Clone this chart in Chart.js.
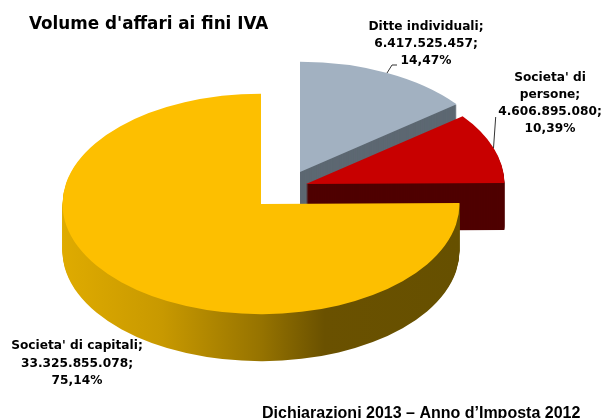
<!DOCTYPE html>
<html><head><meta charset="utf-8">
<style>html,body{margin:0;padding:0;background:#fff;overflow:hidden}canvas{display:block}</style>
<script src="https://cdn.jsdelivr.net/npm/chart.js@4/dist/chart.umd.js"></script>
</head><body>
<canvas id="c" width="603" height="418"></canvas>
<script>
const categories = ["Ditte individuali", "Societa' di persone", "Societa' di capitali"];
const values = [6417525457, 4606895080, 33325855078];
const topColors = ["#A2B1C1", "#C80000", "#FDBF00"];
const sideColors = ["#5D6872", "#4F0000", null];
const sliceCenterX = [300, 306, 261];
const sliceCenterY = [172, 184, 204];
const labelLines = [
  ["Ditte individuali;", "6.417.525.457;", "14,47%"],
  ["Societa' di", "persone;", "4.606.895.080;", "10,39%"],
  ["Societa' di capitali;", "33.325.855.078;", "75,14%"]
];
const labelX = [426, 550, 77];
const labelY = [[27, 44, 61], [78, 95, 112, 129], [346, 364, 381]];
const titleText = "Volume d'affari ai fini IVA";
const footerText = "Dichiarazioni 2013 \u2013 Anno d\u2019Imposta 2012";
const leaders = [[[387,73],[392,65],[397,65]], [[493.5,148],[495.7,117]]];
const squash = 0.555, depth = 47;

const pie3d = {
  id: 'pie3d',
  beforeDatasetDraw(chart) {
    const ctx = chart.ctx, arcs = chart.getDatasetMeta(0).data;
    arcs.forEach((arc, i) => {
      const place = (dy) => {
        ctx.save();
        ctx.translate(sliceCenterX[i], sliceCenterY[i] + dy);
        ctx.scale(1, squash);
        ctx.translate(-arc.x, -arc.y);
      };
      const top = arc.options.backgroundColor;
      let side = sideColors[i];
      if (!side) {
        const g = ctx.createLinearGradient(arc.x - 198.5, 0, arc.x + 198.5, 0);
        g.addColorStop(0, '#DFAB00');
        g.addColorStop(0.25, '#C89900');
        g.addColorStop(0.5, '#967300');
        g.addColorStop(0.66, '#6A5100');
        g.addColorStop(1, '#665000');
        side = g;
      }
      arc.options.backgroundColor = side;
      for (let d = depth; d > 0; d--) { place(d); arc.draw(ctx); ctx.restore(); }
      arc.options.backgroundColor = top;
      place(0); arc.draw(ctx); ctx.restore();
    });
    return false;
  },
  afterDraw(chart) {
    const ctx = chart.ctx;
    ctx.save();
    ctx.strokeStyle = '#333'; ctx.lineWidth = 1;
    leaders.forEach(l => {
      ctx.beginPath();
      l.forEach((p, i) => i ? ctx.lineTo(p[0], p[1]) : ctx.moveTo(p[0], p[1]));
      ctx.stroke();
    });
    ctx.fillStyle = '#000'; ctx.textBaseline = 'middle';
    ctx.textAlign = 'left';
    ctx.font = 'bold 16.8px "DejaVu Sans"';
    ctx.fillText(titleText, 29, 24.5);
    ctx.font = 'bold 12.2px "DejaVu Sans"';
    ctx.textAlign = 'center';
    labelLines.forEach((lines, i) => lines.forEach((t, j) => ctx.fillText(t, labelX[i], labelY[i][j])));
    ctx.font = 'bold 16px "Liberation Sans"';
    ctx.textAlign = 'left';
    ctx.textBaseline = 'alphabetic';
    ctx.fillText(footerText, 262, 418);
    ctx.restore();
  }
};

new Chart(document.getElementById('c'), {
  type: 'pie',
  data: { labels: categories, datasets: [{ data: values, backgroundColor: topColors, borderWidth: 0, radius: 198.5 }] },
  options: {
    responsive: false, animation: false, events: [],
    layout: { padding: 0 },
    plugins: { legend: { display: false }, tooltip: { enabled: false } }
  },
  plugins: [pie3d]
});
</script>
</body></html>
